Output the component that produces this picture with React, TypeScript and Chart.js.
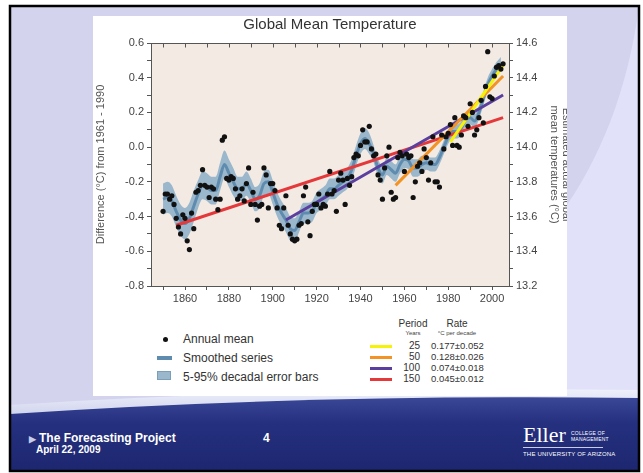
import React, { useEffect, useRef } from "react";
import { Chart, registerables } from "chart.js";

Chart.register(...registerables);

const FONT = "'Liberation Sans', Arial, Helvetica, sans-serif";

// Annual global mean anomaly, 1850..2005 (one value per year)
const annualMean = [
  -0.37, -0.27, -0.27, -0.30, -0.28, -0.33, -0.41, -0.46, -0.50, -0.39,
  -0.41, -0.54, -0.59, -0.38, -0.47, -0.26, -0.25, -0.22, -0.13, -0.22,
  -0.23, -0.29, -0.23, -0.24, -0.30, -0.36, -0.30, 0.04, 0.06, -0.18,
  -0.19, -0.17, -0.18, -0.24, -0.30, -0.28, -0.24, -0.31, -0.21, -0.12,
  -0.33, -0.26, -0.33, -0.42, -0.34, -0.33, -0.12, -0.16, -0.35, -0.21,
  -0.21, -0.25, -0.35, -0.45, -0.47, -0.35, -0.28, -0.45, -0.50, -0.53,
  -0.54, -0.53, -0.45, -0.44, -0.28, -0.23, -0.43, -0.51, -0.37, -0.33,
  -0.33, -0.27, -0.35, -0.33, -0.34, -0.27, -0.14, -0.27, -0.25, -0.37,
  -0.19, -0.15, -0.19, -0.33, -0.18, -0.22, -0.17, -0.06, -0.04, -0.05,
  0.01, 0.10, 0.03, 0.03, 0.12, -0.01, -0.05, -0.04, -0.16, -0.19,
  -0.30, -0.12, -0.05, 0.00, -0.26, -0.30, -0.29, -0.06, -0.03, -0.05,
  -0.14, -0.04, -0.06, -0.05, -0.29, -0.20, -0.11, -0.09, -0.14, -0.01,
  -0.06, -0.19, -0.09, 0.06, -0.20, -0.20, -0.23, 0.07, -0.01, 0.06,
  0.08, 0.13, 0.01, 0.17, 0.01, 0.00, 0.07, 0.18, 0.17, 0.12,
  0.25, 0.20, 0.07, 0.10, 0.17, 0.27, 0.14, 0.35, 0.55, 0.29,
  0.28, 0.41, 0.46, 0.47, 0.45, 0.48,
];
const annualStartYear = 1850;

// Smoothed (decadal) series, every 2 years 1850..2004
const smoothedSeries = [
  -0.30, -0.29, -0.31, -0.37, -0.42, -0.44, -0.41, -0.34, -0.27, -0.22,
  -0.23, -0.25, -0.25, -0.17, -0.10, -0.15, -0.20, -0.24, -0.24, -0.21,
  -0.25, -0.30, -0.28, -0.21, -0.20, -0.26, -0.33, -0.38, -0.42, -0.47,
  -0.48, -0.43, -0.38, -0.38, -0.37, -0.32, -0.30, -0.28, -0.24, -0.24,
  -0.22, -0.20, -0.18, -0.13, -0.05, 0.02, 0.05, 0.02, -0.04, -0.12,
  -0.16, -0.11, -0.13, -0.15, -0.10, -0.07, -0.08, -0.12, -0.12, -0.10,
  -0.09, -0.10, -0.10, -0.06, 0.00, 0.06, 0.09, 0.09, 0.11, 0.16,
  0.17, 0.15, 0.20, 0.28, 0.36, 0.41, 0.45, 0.48,
];
// 5-95% error half-width for the smoothed series (same years)
const errorHalfWidth = [
  0.09, 0.09, 0.09, 0.09, 0.09, 0.09, 0.09, 0.09, 0.08, 0.08,
  0.08, 0.08, 0.08, 0.08, 0.08, 0.08, 0.08, 0.07, 0.07, 0.07,
  0.07, 0.07, 0.07, 0.07, 0.07, 0.07, 0.07, 0.07, 0.07, 0.07,
  0.07, 0.06, 0.06, 0.06, 0.06, 0.06, 0.06, 0.06, 0.06, 0.06,
  0.06, 0.06, 0.06, 0.06, 0.06, 0.06, 0.06, 0.06, 0.05, 0.05,
  0.05, 0.05, 0.05, 0.05, 0.05, 0.05, 0.05, 0.05, 0.05, 0.05,
  0.04, 0.04, 0.04, 0.04, 0.04, 0.04, 0.04, 0.04, 0.04, 0.04,
  0.04, 0.04, 0.04, 0.04, 0.04, 0.04, 0.04, 0.04,
];
const smoothStartYear = 1850;
const smoothStep = 2;

// Linear trends
const trendPeriods = ["25", "50", "100", "150"];
const trendRates = ["0.177±0.052", "0.128±0.026", "0.074±0.018", "0.045±0.012"];
const trendStartYears = [1981, 1956, 1906, 1856];
const trendEndYears = [2005, 2005, 2005, 2005];
const trendStartValues = [0.03, -0.22, -0.42, -0.45];
const trendEndValues = [0.47, 0.41, 0.30, 0.17];
const trendColors = ["#f6f20a", "#f39326", "#5a3f9e", "#e5383a"];

const xTickYears = [1850, 1860, 1870, 1880, 1890, 1900, 1910, 1920, 1930, 1940, 1950, 1960, 1970, 1980, 1990, 2000];
const xLabelYears = [1860, 1880, 1900, 1920, 1940, 1960, 1980, 2000];
const leftTicks = [-0.8, -0.7, -0.6, -0.5, -0.4, -0.3, -0.2, -0.1, 0.0, 0.1, 0.2, 0.3, 0.4, 0.5, 0.6];
const leftLabels = [-0.8, -0.6, -0.4, -0.2, 0.0, 0.2, 0.4, 0.6];
const rightTicks = [13.2, 13.3, 13.4, 13.5, 13.6, 13.7, 13.8, 13.9, 14.0, 14.1, 14.2, 14.3, 14.4, 14.5, 14.6];
const rightLabels = [13.2, 13.4, 13.6, 13.8, 14.0, 14.2, 14.4, 14.6];

const legendLeft = ["Annual mean", "Smoothed series", "5-95% decadal error bars"];

const AXIS = "#555";
const PLOT_BG = "#f3ebe3";
const BAND = "#9ab7cc";
const SMOOTH = "#5f8cae";

const plotBgPlugin = {
  id: "plotBg",
  beforeDraw(chart: any) {
    const { ctx, chartArea } = chart;
    ctx.save();
    ctx.fillStyle = PLOT_BG;
    ctx.fillRect(chartArea.left, chartArea.top, chartArea.right - chartArea.left, chartArea.bottom - chartArea.top);
    ctx.restore();
  },
};

const framePlugin = {
  id: "frame",
  afterDraw(chart: any) {
    const { ctx, chartArea } = chart;
    const xs = chart.scales.x;
    ctx.save();
    ctx.strokeStyle = AXIS;
    ctx.lineWidth = 1;
    ctx.beginPath();
    const t = Math.round(chartArea.top) + 0.5;
    ctx.moveTo(chartArea.left, t);
    ctx.lineTo(chartArea.right, t);
    xTickYears.forEach((yr) => {
      const px = Math.round(xs.getPixelForValue(yr)) + 0.5;
      ctx.moveTo(px, t);
      ctx.lineTo(px, t + 4);
    });
    ctx.stroke();
    ctx.restore();
  },
};

export default function App() {
  const ref = useRef<HTMLCanvasElement>(null);

  useEffect(() => {
    if (!ref.current) return;
    Chart.defaults.font.family = FONT;
    const points = annualMean.map((v, i) => ({ x: annualStartYear + i, y: v }));
    const smooth = smoothedSeries.map((v, i) => ({ x: smoothStartYear + smoothStep * i, y: v }));
    const upper = smoothedSeries.map((v, i) => ({ x: smoothStartYear + smoothStep * i, y: v + errorHalfWidth[i] }));
    const lower = smoothedSeries.map((v, i) => ({ x: smoothStartYear + smoothStep * i, y: v - errorHalfWidth[i] }));
    const trends = trendPeriods.map((p, i) => ({
      type: "line",
      label: p,
      data: [
        { x: trendStartYears[i], y: trendStartValues[i] },
        { x: trendEndYears[i], y: trendEndValues[i] },
      ],
      borderColor: trendColors[i],
      borderWidth: 3,
      pointRadius: 0,
      fill: false,
      showLine: true,
    }));

    const tickFont = { size: 11, family: FONT };
    const chart = new Chart(ref.current, {
      type: "scatter",
      data: {
        datasets: [
          {
            label: "Annual mean",
            data: points,
            pointRadius: 2.6,
            pointBackgroundColor: "#111",
            pointBorderWidth: 0,
            showLine: false,
          } as any,
          ...trends,
          {
            type: "line",
            label: "Smoothed series",
            data: smooth,
            borderColor: SMOOTH,
            borderWidth: 3,
            pointRadius: 0,
            cubicInterpolationMode: "monotone",
            fill: false,
          },
          {
            type: "line",
            label: "lower",
            data: lower,
            borderWidth: 0,
            borderColor: "rgba(0,0,0,0)",
            pointRadius: 0,
            cubicInterpolationMode: "monotone",
            fill: false,
          },
          {
            type: "line",
            label: "5-95% decadal error bars",
            data: upper,
            borderWidth: 0,
            borderColor: "rgba(0,0,0,0)",
            backgroundColor: BAND,
            pointRadius: 0,
            cubicInterpolationMode: "monotone",
            fill: "-1",
          },
        ] as any,
      },
      options: {
        animation: false,
        responsive: false,
        events: [],
        layout: { padding: 0 },
        plugins: {
          legend: { display: false },
          tooltip: { enabled: false },
          title: {
            display: true,
            text: "Global Mean Temperature",
            color: "#333",
            font: { size: 15, family: FONT, weight: "normal" },
            padding: { top: 0, bottom: 9 },
          },
        },
        scales: {
          x: {
            type: "linear",
            position: "bottom",
            min: 1844.5,
            max: 2007.7,
            afterBuildTicks: (s: any) => {
              s.ticks = xTickYears.map((v) => ({ value: v }));
            },
            afterFit: (s: any) => {
              s.height = 30;
            },
            grid: { drawOnChartArea: false, drawTicks: true, tickLength: 4, color: AXIS },
            border: { display: true, color: AXIS, width: 1 },
            ticks: {
              autoSkip: false,
              maxRotation: 0,
              padding: 2,
              color: "#444",
              font: tickFont,
              callback: (v: any) => (xLabelYears.includes(Number(v)) ? String(v) : ""),
            },
          },
          y: {
            type: "linear",
            position: "left",
            min: -0.8,
            max: 0.6,
            afterBuildTicks: (s: any) => {
              s.ticks = leftTicks.map((v) => ({ value: v }));
            },
            afterFit: (s: any) => {
              s.width = 58;
            },
            grid: { drawOnChartArea: false, drawTicks: true, tickLength: 4, color: AXIS },
            border: { display: true, color: AXIS, width: 1 },
            ticks: {
              padding: 3,
              color: "#444",
              font: tickFont,
              callback: (v: any) => {
                const n = Number(v);
                return leftLabels.some((l) => Math.abs(l - n) < 1e-6) ? n.toFixed(1) : "";
              },
            },
            title: {
              display: true,
              text: "Difference (°C) from 1961 - 1990",
              color: "#555",
              font: { size: 11, family: FONT },
              padding: { top: 1, bottom: 0 },
            },
          },
          y2: {
            type: "linear",
            position: "right",
            min: 13.2,
            max: 14.6,
            afterBuildTicks: (s: any) => {
              s.ticks = rightTicks.map((v) => ({ value: v }));
            },
            afterFit: (s: any) => {
              s.width = 58;
            },
            grid: { drawOnChartArea: false, drawTicks: true, tickLength: 4, color: AXIS },
            border: { display: true, color: AXIS, width: 1 },
            ticks: {
              padding: 3,
              color: "#444",
              font: tickFont,
              callback: (v: any) => {
                const n = Number(v);
                return rightLabels.some((l) => Math.abs(l - n) < 1e-6) ? n.toFixed(1) : "";
              },
            },
            title: {
              display: true,
              text: ["Estimated actual global", "mean temperatures (°C)"],
              color: "#555",
              font: { size: 11, family: FONT, lineHeight: 1.1 },
              padding: { top: -5, bottom: 0 },
            },
          },
        },
      } as any,
      plugins: [plotBgPlugin, framePlugin],
    });
    return () => chart.destroy();
  }, []);

  const legendRowsY = [346, 357, 368, 379];

  return (
    <div style={{ position: "absolute", left: 0, top: 0, width: 643, height: 473, background: "#fff", overflow: "hidden", fontFamily: FONT }}>
      {/* slide background */}
      <svg width={643} height={473} style={{ position: "absolute", left: 0, top: 0 }}>
        <defs>
          <linearGradient id="foot" x1="0" y1="0" x2="0" y2="1">
            <stop offset="0" stopColor="#3a4897" />
            <stop offset="0.35" stopColor="#25307f" />
            <stop offset="1" stopColor="#1d2770" />
          </linearGradient>
          <linearGradient id="footHi" x1="0" y1="0" x2="0" y2="1">
            <stop offset="0" stopColor="#eef0fb" />
            <stop offset="1" stopColor="#8f98cf" />
          </linearGradient>
        </defs>
        <rect x={10} y={6} width={629} height={465} fill="#d3d3ee" />
        <path d="M 639 6 C 628 90, 600 160, 560 215 L 560 471 L 639 471 Z" fill="#e1e1fa" />
        <path d="M 10 405 Q 300 386 639 390 L 639 471 L 10 471 Z" fill="url(#footHi)" />
        <path d="M 10 414 Q 300 394 639 398 L 639 471 L 10 471 Z" fill="url(#foot)" />
        <rect x={10} y={6} width={629} height={465} fill="none" stroke="#000" strokeWidth={2.5} />
      </svg>

      {/* white panel */}
      <div style={{ position: "absolute", left: 93, top: 16, width: 474, height: 380, background: "#fff" }}>
        <canvas ref={ref} width={474} height={300} style={{ display: "block", width: 474, height: 300 }} />
      </div>

      {/* left legend */}
      <div style={{ position: "absolute", left: 163, top: 337, width: 5, height: 5, borderRadius: 3, background: "#111" }} />
      <div style={{ position: "absolute", left: 157, top: 356, width: 15, height: 4, background: SMOOTH }} />
      <div style={{ position: "absolute", left: 157, top: 371, width: 14, height: 9, background: BAND, border: "1px solid #7c9fb9", boxSizing: "border-box" }} />
      {legendLeft.map((t, i) => (
        <div key={t} style={{ position: "absolute", left: 183, top: [332, 351, 370][i], fontSize: 12, lineHeight: "14px", color: "#333", whiteSpace: "nowrap" }}>
          {t}
        </div>
      ))}

      {/* right legend */}
      <div style={{ position: "absolute", left: 396, top: 318, width: 34, textAlign: "center", fontSize: 10, lineHeight: "12px", color: "#333" }}>Period</div>
      <div style={{ position: "absolute", left: 440, top: 318, width: 34, textAlign: "center", fontSize: 10, lineHeight: "12px", color: "#333" }}>Rate</div>
      <div style={{ position: "absolute", left: 396, top: 330, width: 34, textAlign: "center", fontSize: 6, lineHeight: "7px", color: "#444" }}>Years</div>
      <div style={{ position: "absolute", left: 432, top: 330, width: 50, textAlign: "center", fontSize: 6, lineHeight: "7px", color: "#444" }}>°C per decade</div>
      {trendPeriods.map((p, i) => (
        <React.Fragment key={p}>
          <div style={{ position: "absolute", left: 370, top: legendRowsY[i] - 1, width: 22, height: 3, background: trendColors[i] }} />
          <div style={{ position: "absolute", left: 396, top: legendRowsY[i] - 6, width: 24, textAlign: "right", fontSize: 10, lineHeight: "12px", color: "#333" }}>{p}</div>
          <div style={{ position: "absolute", left: 431, top: legendRowsY[i] - 6, fontSize: 9.5, lineHeight: "12px", color: "#333", whiteSpace: "nowrap" }}>{trendRates[i]}</div>
        </React.Fragment>
      ))}

      {/* footer */}
      <div style={{ position: "absolute", left: 29, top: 431, color: "#fff", fontWeight: "bold", fontSize: 12, lineHeight: "14px", whiteSpace: "nowrap" }}>
        <span style={{ fontSize: 9, marginRight: 3, color: "#c8cce8" }}>▶</span>The Forecasting Project
      </div>
      <div style={{ position: "absolute", left: 36, top: 444, color: "#fff", fontWeight: "bold", fontSize: 10, lineHeight: "12px", whiteSpace: "nowrap" }}>April 22, 2009</div>
      <div style={{ position: "absolute", left: 263, top: 431, color: "#fff", fontWeight: "bold", fontSize: 12, lineHeight: "14px" }}>4</div>
      <div style={{ position: "absolute", left: 523, top: 424, color: "#fff", fontFamily: "'Liberation Serif', 'Times New Roman', serif", fontSize: 22, lineHeight: "22px" }}>Eller</div>
      <div style={{ position: "absolute", left: 571, top: 430, color: "#fff", fontSize: 5, lineHeight: "6px", letterSpacing: 0.2 }}>
        COLLEGE OF<br />MANAGEMENT
      </div>
      <div style={{ position: "absolute", left: 523, top: 447, width: 80, height: 1, background: "#c8cce8" }} />
      <div style={{ position: "absolute", left: 523, top: 450, color: "#fff", fontSize: 6, lineHeight: "8px", whiteSpace: "nowrap", letterSpacing: 0.2 }}>THE UNIVERSITY OF ARIZONA</div>
    </div>
  );
}
